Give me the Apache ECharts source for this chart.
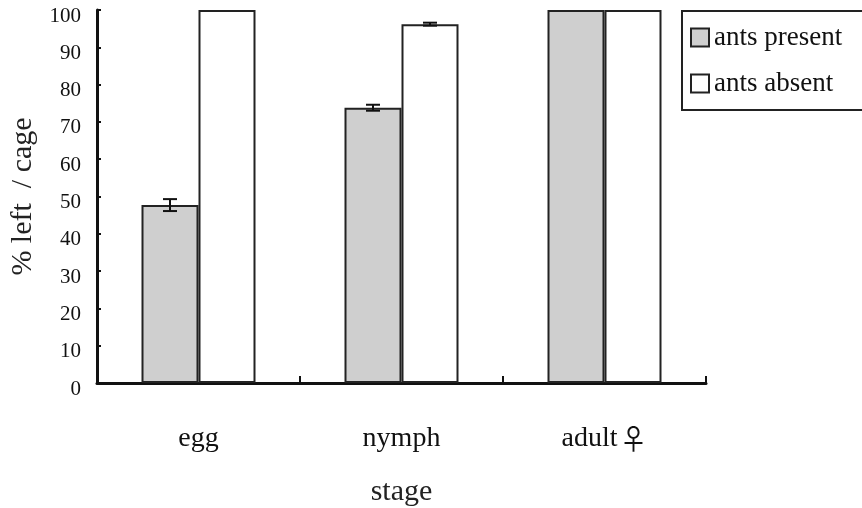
<!DOCTYPE html>
<html>
<head>
<meta charset="utf-8">
<script src="https://cdn.jsdelivr.net/npm/echarts@6/dist/echarts.min.js"></script>
<style>html,body{margin:0;padding:0;background:#fff}#c{width:862px;height:508px}</style>
</head>
<body>
<div id="c"></div>
<script>
// Proportion of individuals remaining per cage, by life stage
const stages = ['egg', 'nymph', 'adult\u2640'];
const antsPresent = [47.7, 73.8, 100];
const antsAbsent = [100, 96.2, 100];
// Standard errors (null where no bar is shown)
const errPresent = [1.6, 0.8, null];
const errAbsent = [null, 0.4, null];
const yTicks = [0, 10, 20, 30, 40, 50, 60, 70, 80, 90, 100];

const FONT = '"Liberation Serif", "DejaVu Serif", serif';
const BAR_W = 57;

const chart = echarts.init(document.getElementById('c'));

function errorItems(vals, errs, side) {
  const out = [];
  vals.forEach((v, i) => { if (errs[i] != null) out.push([i, v, errs[i], side]); });
  return out;
}

function renderError(params, api) {
  const idx = api.value(0), v = api.value(1), e = api.value(2), side = api.value(3);
  const hi = api.coord([idx, v + e]);
  const lo = api.coord([idx, v - e]);
  const x = hi[0] + side * BAR_W / 2;
  const cap = 7;
  const style = { stroke: '#111', lineWidth: 2 };
  return {
    type: 'group',
    children: [
      { type: 'line', shape: { x1: x, y1: hi[1], x2: x, y2: lo[1] }, style },
      { type: 'line', shape: { x1: x - cap, y1: hi[1], x2: x + cap, y2: hi[1] }, style },
      { type: 'line', shape: { x1: x - cap, y1: lo[1], x2: x + cap, y2: lo[1] }, style }
    ]
  };
}

// Render the female sign in a lighter face than the surrounding word
function stageLabel(s) {
  return s.replace('\u2640', '{sym|\u2640}');
}

chart.setOption({
  animation: false,
  backgroundColor: '#fff',
  grid: { left: 97, right: 156, top: 10, bottom: 125, outerBoundsMode: 'none' },
  legend: {
    orient: 'vertical',
    left: 682, top: 11,
    padding: [13, 40, 13, 8],
    itemGap: 19,
    itemWidth: 18, itemHeight: 18,
    borderColor: '#222', borderWidth: 2,
    icon: 'rect',
    textStyle: { fontFamily: FONT, fontSize: 27, color: '#111' },
    data: ['ants present', 'ants absent']
  },
  xAxis: {
    type: 'category',
    data: stages,
    name: 'stage',
    nameLocation: 'middle',
    nameGap: 94,
    nameTextStyle: { fontFamily: FONT, fontSize: 30, color: '#222' },
    axisLine: { lineStyle: { color: '#111', width: 3 } },
    axisTick: { show: true, inside: true, length: 7, lineStyle: { color: '#111', width: 2 } },
    axisLabel: {
      fontFamily: FONT, fontSize: 28, color: '#111', margin: 42,
      formatter: stageLabel,
      rich: {
        sym: { fontFamily: '"Noto Sans CJK TC", "Noto Sans", sans-serif', fontSize: 28, color: '#111', padding: [0, 0, 0, 2] }
      }
    }
  },
  yAxis: {
    type: 'value',
    min: 0, max: 100, interval: 10,
    name: '% left  / cage',
    nameLocation: 'middle',
    nameGap: 55,
    nameTextStyle: { fontFamily: FONT, fontSize: 30, color: '#222' },
    axisLine: { show: true, lineStyle: { color: '#111', width: 3 } },
    axisTick: { show: true, inside: true, length: 4, lineStyle: { color: '#111', width: 2 } },
    axisLabel: {
      fontFamily: FONT, fontSize: 21, color: '#111', margin: 16,
      verticalAlign: 'top', lineHeight: 12,
      formatter: v => (yTicks.includes(v) ? String(v) : '')
    },
    splitLine: { show: false }
  },
  series: [
    {
      name: 'ants present', type: 'bar', data: antsPresent,
      barWidth: BAR_W, barGap: '0%',
      itemStyle: { color: '#cfcfcf', borderColor: '#222', borderWidth: 2 }
    },
    {
      name: 'ants absent', type: 'bar', data: antsAbsent,
      barWidth: BAR_W, barGap: '0%',
      itemStyle: { color: '#ffffff', borderColor: '#222', borderWidth: 2 }
    },
    {
      type: 'custom', renderItem: renderError, z: 10,
      data: errorItems(antsPresent, errPresent, -1).concat(errorItems(antsAbsent, errAbsent, 1)),
      encode: { x: 0, y: 1 }
    }
  ]
});
</script>
</body>
</html>
